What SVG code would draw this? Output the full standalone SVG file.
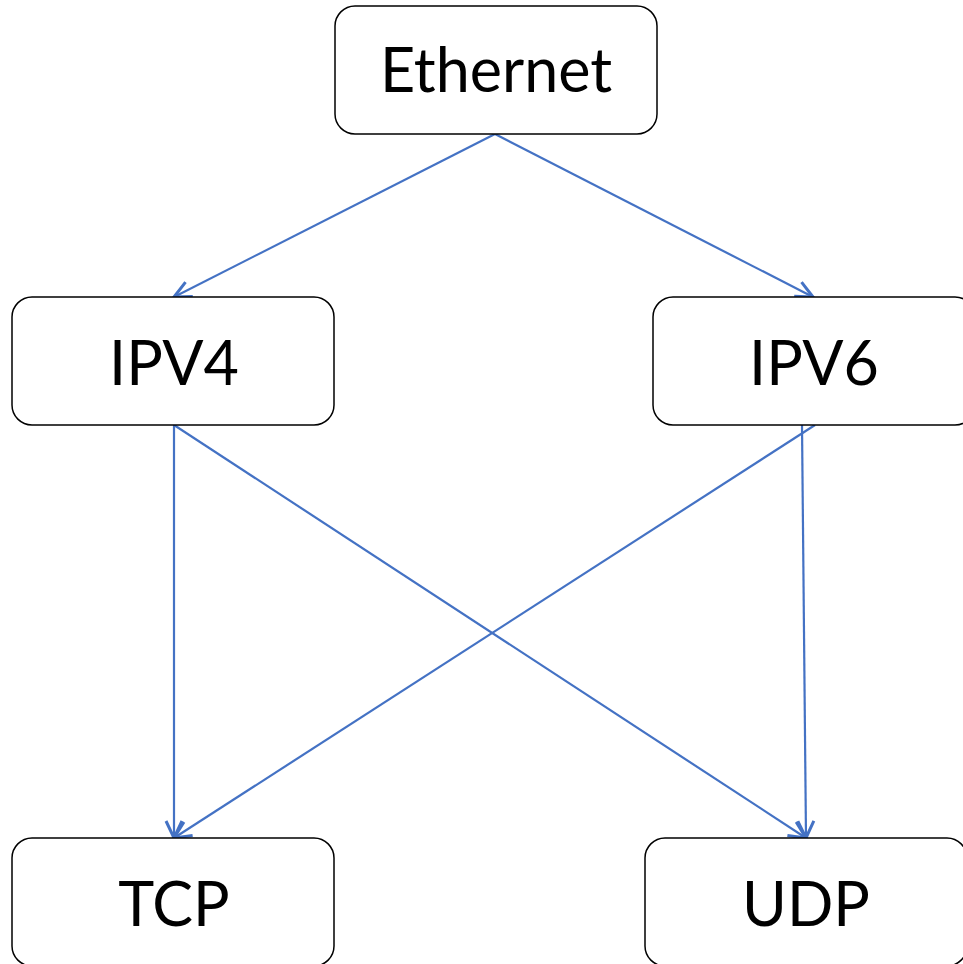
<svg xmlns="http://www.w3.org/2000/svg" width="963" height="964" viewBox="0 0 963 964">
<style>
.box{fill:#fff;stroke:#000;stroke-width:1.5}
.lbl{font-family:Lato,"Liberation Sans",Arial,sans-serif;font-size:61px;fill:#000;text-anchor:middle}
.edge{stroke:#4472C4;stroke-width:2.2;fill:none;marker-end:url(#arr)}
</style>
<defs>
<marker id="arr" viewBox="0 0 22 22" refX="20" refY="11" markerWidth="22" markerHeight="22" markerUnits="userSpaceOnUse" orient="auto">
<path d="M3,3 L20,11 L3,19" fill="none" stroke="#4472C4" stroke-width="3"/>
</marker>
</defs>
<rect width="963" height="964" fill="#fff"/>
<g id="connectors">
<line class="edge" x1="495" y1="134" x2="174" y2="297"/>
<line class="edge" x1="495" y1="134" x2="813" y2="297"/>
<line class="edge" x1="174" y1="425" x2="174" y2="838"/>
<line class="edge" x1="174" y1="425" x2="806" y2="838"/>
<line class="edge" x1="815" y1="425" x2="174" y2="838"/>
<line class="edge" x1="802" y1="425" x2="806" y2="838"/>
</g>
<g id="ethernet"><rect class="box" x="335" y="6" width="322" height="128" rx="20"/><text class="lbl" x="496" y="92">Ethernet</text></g>
<g id="ipv4"><rect class="box" x="12" y="297" width="322" height="128" rx="20"/><text class="lbl" x="174" y="385">IPV4</text></g>
<g id="ipv6"><rect class="box" x="653" y="297" width="322" height="128" rx="20"/><text class="lbl" x="814" y="385">IPV6</text></g>
<g id="tcp"><rect class="box" x="12" y="838" width="322" height="128" rx="20"/><text class="lbl" x="174" y="926">TCP</text></g>
<g id="udp"><rect class="box" x="645" y="838" width="322" height="128" rx="20"/><text class="lbl" x="806" y="926">UDP</text></g>
</svg>
